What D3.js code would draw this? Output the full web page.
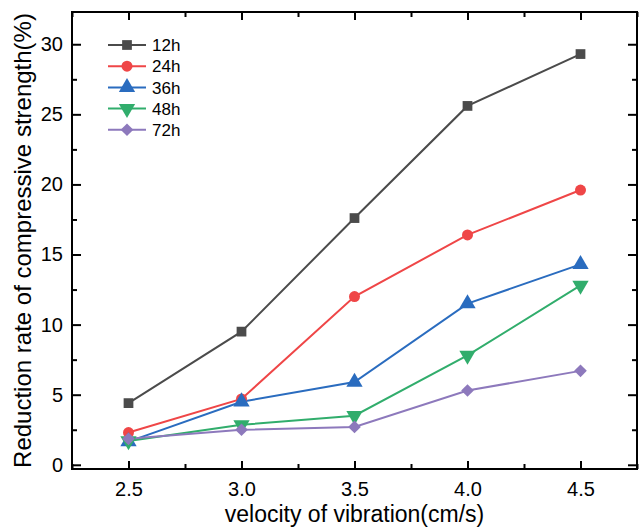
<!DOCTYPE html>
<html>
<head>
<meta charset="utf-8">
<script src="https://cdn.jsdelivr.net/npm/d3@7"></script>
<style>
  body { margin: 0; background: #fff; }
  svg { font-family: Arial, "Liberation Sans", sans-serif; }
</style>
</head>
<body>
<svg id="drawing_region"></svg>
<script>
// data
const velocity = [2.5, 3.0, 3.5, 4.0, 4.5];
const seriesNames = ['12h', '24h', '36h', '48h', '72h'];
const v12h = [4.4, 9.5, 17.6, 25.6, 29.3];
const v24h = [2.3, 4.7, 12.0, 16.4, 19.6];
const v36h = [1.65, 4.5, 5.9, 11.5, 14.3];
const v48h = [1.7, 2.85, 3.5, 7.8, 12.8];
const v72h = [1.85, 2.5, 2.7, 5.3, 6.7];
const xTicks = [2.5, 3.0, 3.5, 4.0, 4.5];
const yTicks = [0, 5, 10, 15, 20, 25, 30];

const colors = ['#4b4b4b', '#ef4647', '#2a6cbf', '#31ad6c', '#8d79bc'];
const shapes = [d3.symbolSquare, d3.symbolCircle, d3.symbolTriangle, d3.symbolTriangle, d3.symbolSquare];
const sizes = [95, 95, 115, 115, 80];
const rotations = [0, 0, 0, 180, 45];
const values = [v12h, v24h, v36h, v48h, v72h];

const width = 640, height = 530;
const margin = {top: 12, right: 3, bottom: 61, left: 72};
const inner_width = width - margin.left - margin.right;
const inner_height = height - margin.top - margin.bottom;

const svg = d3.select('#drawing_region')
    .attr('width', width)
    .attr('height', height);

const chart = svg.append('g')
    .attr('transform', `translate(${margin.left}, ${margin.top})`);

const xscale = d3.scaleLinear()
    .domain([2.25, 4.75])
    .range([0, inner_width]);

const yscale = d3.scaleLinear()
    .domain([-0.3, 32.3])
    .range([inner_height, 0]);

const xminor = d3.range(2.25, 4.76, 0.25).filter(v => !xTicks.some(t => Math.abs(t - v) < 1e-6));
const yminor = d3.range(2.5, 32, 5);

// ticks (inward on all four sides)
const tickStyle = g => g.select('.domain').remove();
const tickLines = g => g.selectAll('line').attr('stroke', '#000').attr('stroke-width', 2);

chart.append('g')
    .attr('transform', `translate(0, ${inner_height})`)
    .call(d3.axisBottom(xscale).tickValues(xTicks).tickFormat(d3.format('.1f')).tickSizeInner(-8).tickSizeOuter(0).tickPadding(13))
    .call(tickStyle)
    .call(g => g.selectAll('text').attr('font-size', 20).attr('fill', '#000'))
    .call(tickLines);
chart.append('g')
    .attr('transform', `translate(0, ${inner_height})`)
    .call(d3.axisBottom(xscale).tickValues(xminor).tickFormat('').tickSizeInner(-5).tickSizeOuter(0))
    .call(tickStyle)
    .call(tickLines);

chart.append('g')
    .call(d3.axisTop(xscale).tickValues(xTicks).tickFormat('').tickSizeInner(-8).tickSizeOuter(0))
    .call(tickStyle)
    .call(tickLines);
chart.append('g')
    .call(d3.axisTop(xscale).tickValues(xminor).tickFormat('').tickSizeInner(-5).tickSizeOuter(0))
    .call(tickStyle)
    .call(tickLines);

chart.append('g')
    .call(d3.axisLeft(yscale).tickValues(yTicks).tickSizeInner(-9).tickSizeOuter(0).tickPadding(9))
    .call(tickStyle)
    .call(g => g.selectAll('text').attr('font-size', 20).attr('fill', '#000'))
    .call(tickLines);
chart.append('g')
    .call(d3.axisLeft(yscale).tickValues(yminor).tickFormat('').tickSizeInner(-5).tickSizeOuter(0))
    .call(tickStyle)
    .call(tickLines);

chart.append('g')
    .attr('transform', `translate(${inner_width}, 0)`)
    .call(d3.axisRight(yscale).tickValues(yTicks).tickFormat('').tickSizeInner(-9).tickSizeOuter(0))
    .call(tickStyle)
    .call(tickLines);
chart.append('g')
    .attr('transform', `translate(${inner_width}, 0)`)
    .call(d3.axisRight(yscale).tickValues(yminor).tickFormat('').tickSizeInner(-5).tickSizeOuter(0))
    .call(tickStyle)
    .call(tickLines);

// frame
chart.append('rect')
    .attr('x', 0)
    .attr('y', 0)
    .attr('width', inner_width)
    .attr('height', inner_height)
    .attr('fill', 'none')
    .attr('stroke', '#000')
    .attr('stroke-width', 2);

// series
const line = d3.line()
    .x((d, i) => xscale(velocity[i]))
    .y(d => yscale(d));

values.forEach((vals, k) => {
    chart.append('path')
        .datum(vals)
        .attr('fill', 'none')
        .attr('stroke', colors[k])
        .attr('stroke-width', 2)
        .attr('d', line);
});

values.forEach((vals, k) => {
    chart.selectAll(`.pt${k}`)
        .data(vals)
        .join('path')
        .attr('class', `pt${k}`)
        .attr('d', d3.symbol().type(shapes[k]).size(sizes[k]))
        .attr('fill', colors[k])
        .attr('transform', (d, i) => `translate(${xscale(velocity[i])}, ${yscale(d)}) rotate(${rotations[k]})`);
});

// legend
const legend = svg.append('g')
    .attr('transform', 'translate(108, 45)');

seriesNames.forEach((name, k) => {
    const row = legend.append('g')
        .attr('transform', `translate(0, ${k * 21.2})`);
    row.append('line')
        .attr('x1', 0).attr('x2', 38)
        .attr('y1', 0).attr('y2', 0)
        .attr('stroke', colors[k])
        .attr('stroke-width', 2);
    row.append('path')
        .attr('d', d3.symbol().type(shapes[k]).size(sizes[k]))
        .attr('fill', colors[k])
        .attr('transform', `translate(19, 0) rotate(${rotations[k]})`);
    row.append('text')
        .attr('x', 44)
        .attr('y', 0)
        .attr('dy', '0.36em')
        .attr('font-size', 17)
        .attr('fill', '#000')
        .text(name);
});

// axis titles
svg.append('text')
    .attr('x', margin.left + inner_width / 2)
    .attr('y', 522)
    .attr('text-anchor', 'middle')
    .attr('font-size', 23)
    .attr('fill', '#000')
    .text('velocity of vibration(cm/s)');

svg.append('text')
    .attr('transform', `translate(31, ${margin.top + inner_height / 2}) rotate(-90)`)
    .attr('text-anchor', 'middle')
    .attr('font-size', 24)
    .attr('fill', '#000')
    .text('Reduction rate of compressive strength(%)');
</script>
</body>
</html>
